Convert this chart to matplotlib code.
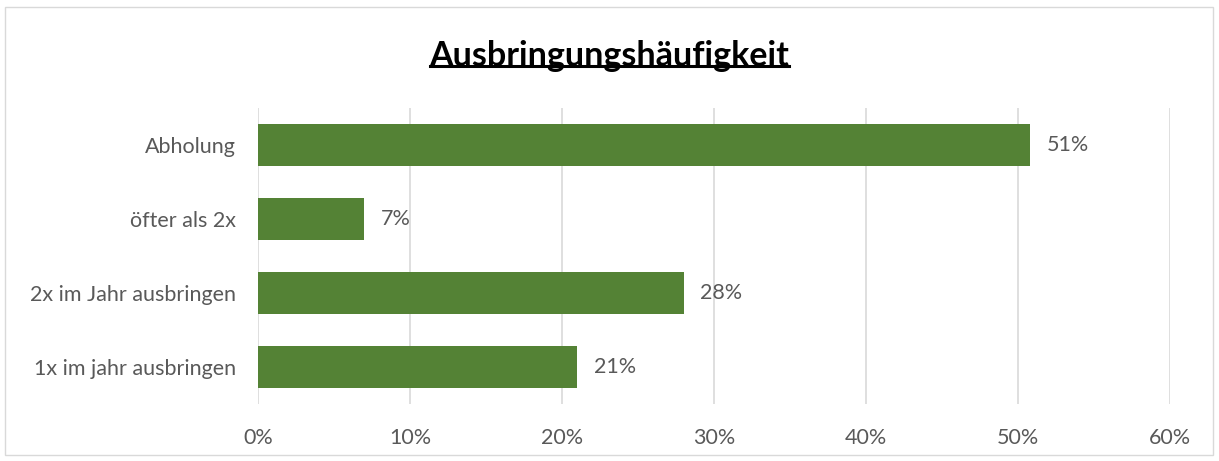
import matplotlib.pyplot as plt
from matplotlib.patches import Rectangle
from matplotlib.lines import Line2D
from matplotlib.ticker import FuncFormatter

# ======================= DATA ==========================
categories = ["1x im jahr ausbringen", "2x im Jahr ausbringen", "öfter als 2x", "Abholung"]
shares = [0.21, 0.28, 0.07, 0.508]
title = "Ausbringungshäufigkeit"
# =======================================================

plt.rcParams['font.family'] = ['Lato', 'DejaVu Sans']
text_color = '#595959'
bar_color = '#548235'
grid_color = '#D9D9D9'

fig = plt.figure(figsize=(12.19, 4.61), dpi=100)
ax = fig.add_axes([258 / 1219, 1 - 404 / 461, 912 / 1219, 296 / 461])

bars = ax.barh(range(len(categories)), shares, height=0.57, color=bar_color, zorder=3)
for bar, v in zip(bars, shares):
    ax.text(bar.get_width() + 0.011, bar.get_y() + bar.get_height() / 2,
            f"{v * 100:.0f}%", va='center', ha='left', fontsize=15.5, color=text_color)

ax.set_xlim(0, 0.6)
ax.set_ylim(-0.5, len(categories) - 0.5)
ax.set_xticks([0, 0.1, 0.2, 0.3, 0.4, 0.5, 0.6])
ax.xaxis.set_major_formatter(FuncFormatter(lambda x, p: f"{x * 100:.0f}%"))
ax.set_yticks(range(len(categories)))
ax.set_yticklabels(categories)
ax.tick_params(axis='both', length=0, labelsize=15.5, colors=text_color)
ax.tick_params(axis='y', pad=16)
ax.tick_params(axis='x', pad=17)
ax.grid(True, axis='x', color=grid_color, linewidth=1.2, zorder=0)
for s in ax.spines.values():
    s.set_visible(False)

# title with underline
t = fig.text(0.5, 1 - 56 / 461, title, ha='center', va='center',
             fontsize=24.5, fontweight='bold', color='black')
fig.canvas.draw()
bb = t.get_window_extent().transformed(fig.transFigure.inverted())
fig.add_artist(Line2D([bb.x0, bb.x1], [bb.y0 + 0.012, bb.y0 + 0.012],
                      transform=fig.transFigure, color='black', linewidth=2.2))

# chart border
fig.add_artist(Rectangle((5 / 1219, 6 / 461), 1208 / 1219, 448 / 461,
                         transform=fig.transFigure, fill=False,
                         edgecolor=grid_color, linewidth=1))

plt.savefig('out.png', dpi=100)
